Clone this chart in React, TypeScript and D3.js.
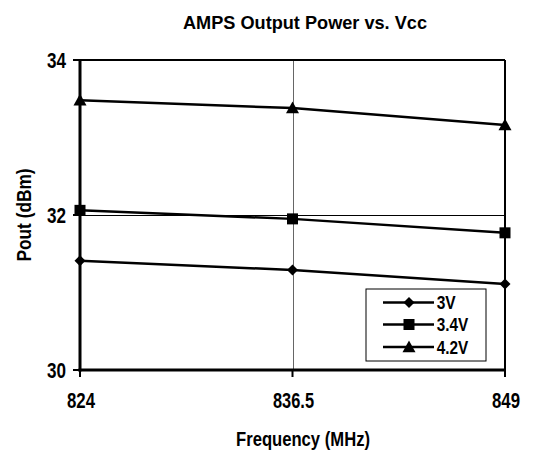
import React from "react";
import * as d3 from "d3";

const frequencies = [824, 836.5, 849];
const xTickLabels = ["824", "836.5", "849"];
const yTicks = [30, 32, 34];
const series3V = [31.41, 31.29, 31.11];
const series34V = [32.06, 31.95, 31.77];
const series42V = [33.48, 33.38, 33.16];
const seriesNames = ["3V", "3.4V", "4.2V"];
const seriesMarkers = ["diamond", "square", "triangle"];

const W = 538;
const H = 455;
const M = { left: 80, right: 505, top: 60, bottom: 370 };
const FONT = "'Liberation Sans Narrow', 'Arial Narrow', 'Liberation Sans', Arial, sans-serif";

function Marker({ type, x, y }: { type: string; x: number; y: number }) {
  if (type === "diamond") {
    const s = 5.5;
    return <path d={`M${x},${y - s}L${x + s},${y}L${x},${y + s}L${x - s},${y}Z`} fill="#000" />;
  }
  if (type === "square") {
    const s = 5.5;
    return <rect x={x - s} y={y - s} width={2 * s} height={2 * s} fill="#000" />;
  }
  const s = 6.5;
  return <path d={`M${x},${y - s}L${x + s},${y + s * 0.8}L${x - s},${y + s * 0.8}Z`} fill="#000" />;
}

export default function App() {
  const x = d3.scalePoint<number>().domain(frequencies).range([M.left, M.right]);
  const y = d3.scaleLinear().domain([30, 34]).range([M.bottom, M.top]);
  const allSeries = [series3V, series34V, series42V];
  const line = d3
    .line<number>()
    .x((_, i) => x(frequencies[i]) as number)
    .y((d) => y(d));

  const legendX = 366;
  const legendY = 289;
  const legendRows = [302.5, 324.5, 347];

  const tickWidth = (s: string) => (s.includes(".") ? 41 : 28);
  const legendWidth = (s: string) => (s.length === 2 ? 19 : 31.5);

  return (
    <svg width={W} height={H} style={{ position: "absolute", left: 0, top: 0, background: "#fff" }}>
      <rect width={W} height={H} fill="#fff" />
      <text
        x={183}
        y={29.3}
        textLength={244}
        lengthAdjust="spacingAndGlyphs"
        fontFamily={FONT}
        fontWeight="bold"
        fontSize={18}
      >
        AMPS Output Power vs. Vcc
      </text>
      {/* gridlines */}
      {yTicks.slice(1, -1).map((t) => (
        <line key={t} x1={M.left} x2={M.right} y1={y(t) + 0.5} y2={y(t) + 0.5} stroke="#000" strokeWidth={1} />
      ))}
      {frequencies.slice(1, -1).map((f) => (
        <line
          key={f}
          x1={Math.round(x(f) as number) + 0.5}
          x2={Math.round(x(f) as number) + 0.5}
          y1={M.top}
          y2={M.bottom}
          stroke="#666"
          strokeWidth={1}
        />
      ))}
      {/* top and right grid edges */}
      <line x1={M.left} x2={M.right} y1={y(34)} y2={y(34)} stroke="#000" strokeWidth={2} />
      <line x1={M.right} x2={M.right} y1={M.top} y2={M.bottom} stroke="#000" strokeWidth={2} />
      {/* axes */}
      <line x1={M.left} x2={M.left} y1={M.top} y2={M.bottom + 1.5} stroke="#000" strokeWidth={3} />
      <line x1={M.left - 1.5} x2={M.right + 1} y1={M.bottom} y2={M.bottom} stroke="#000" strokeWidth={3} />
      {yTicks.map((t) => (
        <g key={t}>
          <line x1={M.left - 7} x2={M.left} y1={y(t)} y2={y(t)} stroke="#000" strokeWidth={2} />
          <text
            x={47}
            y={y(t) + 7.7}
            textLength={19}
            lengthAdjust="spacingAndGlyphs"
            fontFamily={FONT}
            fontWeight="bold"
            fontSize={22}
          >
            {t}
          </text>
        </g>
      ))}
      {frequencies.map((f, i) => (
        <g key={f}>
          <line x1={x(f)} x2={x(f)} y1={M.bottom} y2={M.bottom + 7} stroke="#000" strokeWidth={2} />
          <text
            x={(x(f) as number) + 1 - tickWidth(xTickLabels[i]) / 2}
            y={407.5}
            textLength={tickWidth(xTickLabels[i])}
            lengthAdjust="spacingAndGlyphs"
            fontFamily={FONT}
            fontWeight="bold"
            fontSize={22}
          >
            {xTickLabels[i]}
          </text>
        </g>
      ))}
      <text
        x={236}
        y={446}
        textLength={134}
        lengthAdjust="spacingAndGlyphs"
        fontFamily={FONT}
        fontWeight="bold"
        fontSize={21}
      >
        Frequency (MHz)
      </text>
      <text
        transform={`translate(30.5,${(M.top + M.bottom) / 2 + 46.5}) rotate(-90)`}
        textLength={93}
        lengthAdjust="spacingAndGlyphs"
        fontFamily={FONT}
        fontWeight="bold"
        fontSize={21}
      >
        Pout (dBm)
      </text>
      {/* series */}
      {allSeries.map((s, si) => (
        <g key={si}>
          <path d={line(s) || ""} fill="none" stroke="#000" strokeWidth={2.5} />
          {s.map((v, i) => (
            <Marker key={i} type={seriesMarkers[si]} x={x(frequencies[i]) as number} y={y(v)} />
          ))}
        </g>
      ))}
      {/* legend */}
      <rect x={legendX} y={legendY} width={120} height={72} fill="#fff" stroke="#000" strokeWidth={1} />
      {seriesNames.map((n, i) => (
        <g key={n}>
          <line x1={383} x2={434} y1={legendRows[i]} y2={legendRows[i]} stroke="#000" strokeWidth={2.5} />
          <Marker type={seriesMarkers[i]} x={409} y={legendRows[i]} />
          <text
            x={436.7}
            y={legendRows[i] + 6.7}
            textLength={legendWidth(n)}
            lengthAdjust="spacingAndGlyphs"
            fontFamily={FONT}
            fontWeight="bold"
            fontSize={19}
          >
            {n}
          </text>
        </g>
      ))}
    </svg>
  );
}
